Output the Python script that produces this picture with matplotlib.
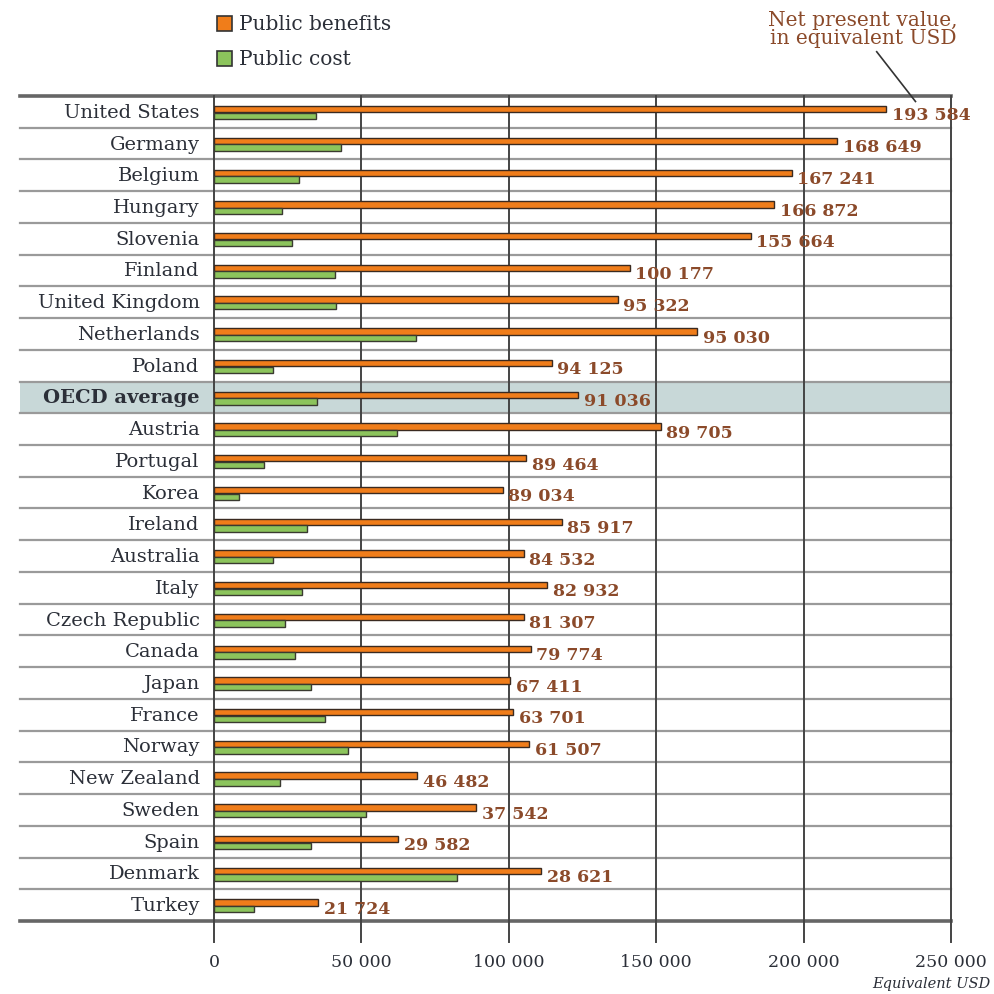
import matplotlib
matplotlib.use("Agg")
import matplotlib.pyplot as plt
from matplotlib.patches import Rectangle

countries = ["United States", "Germany", "Belgium", "Hungary", "Slovenia", "Finland",
             "United Kingdom", "Netherlands", "Poland", "OECD average", "Austria",
             "Portugal", "Korea", "Ireland", "Australia", "Italy", "Czech Republic",
             "Canada", "Japan", "France", "Norway", "New Zealand", "Sweden", "Spain",
             "Denmark", "Turkey"]
benefits = [228000, 211500, 196000, 190000, 182000, 141000, 137000, 164000, 114500,
            123500, 151500, 106000, 98000, 118000, 105000, 113000, 105000, 107500,
            100500, 101500, 107000, 69000, 89000, 62500, 111000, 35300]
costs = [34500, 43000, 29000, 23000, 26500, 41000, 41500, 68500, 20000, 35000,
         62000, 17000, 8500, 31500, 20000, 30000, 24000, 27500, 33000, 37500,
         45500, 22500, 51500, 33000, 82500, 13600]
npv_labels = ["193 584", "168 649", "167 241", "166 872", "155 664", "100 177",
              "95 322", "95 030", "94 125", "91 036", "89 705", "89 464", "89 034",
              "85 917", "84 532", "82 932", "81 307", "79 774", "67 411", "63 701",
              "61 507", "46 482", "37 542", "29 582", "28 621", "21 724"]
xticks = [0, 50000, 100000, 150000, 200000, 250000]
xtick_labels = ["0", "50 000", "100 000", "150 000", "200 000", "250 000"]

ORANGE = "#F07D1A"
GREEN = "#8CC45C"
BROWN = "#8B4A2A"
TXT = "#2b2f38"
SERIF = ["DejaVu Serif"]

fig = plt.figure(figsize=(9.94, 9.95), dpi=100)
ax = fig.add_axes([0.2153, 0.0523, 0.7414, 0.8503])
n = len(countries)
ax.set_xlim(0, 250000)
ax.set_ylim(26.16, -0.5)
ax.axis("off")

ytr = ax.get_yaxis_transform()
left = -0.263
# highlighted OECD row
oi = countries.index("OECD average")
ax.add_patch(Rectangle((left, oi - 0.5), 1 - left, 1, transform=ytr,
                       facecolor="#c8d8d8", edgecolor="none", clip_on=False, zorder=0))
# row separators
for i in range(1, n):
    ax.plot([left, 1], [i - 0.5, i - 0.5], transform=ytr, color="#9a9a9a",
            lw=1.6, clip_on=False, zorder=1)
for yy in (-0.5, n - 0.5):
    ax.plot([left, 1], [yy, yy], transform=ytr, color="#666666",
            lw=2.6, clip_on=False, zorder=1)
# vertical gridlines
for xt in xticks:
    ax.plot([xt, xt], [-0.5, 26.16], color="#444444", lw=1.4, zorder=2, clip_on=False)

ys = list(range(n))
ax.barh([y - 0.08 for y in ys], benefits, height=0.2, color=ORANGE,
        edgecolor="#3a2a20", lw=1.0, zorder=3)
ax.barh([y + 0.13 for y in ys], costs, height=0.2, color=GREEN,
        edgecolor="#3a3a30", lw=1.0, zorder=3)

for i, (c, b, lab) in enumerate(zip(countries, benefits, npv_labels)):
    bold = c == "OECD average"
    ax.text(-0.0195, i, c, transform=ytr, ha="right", va="center", fontsize=14,
            family=SERIF, color=TXT, fontweight="bold" if bold else "normal")
    ax.annotate(lab, (b, i + 0.1), xytext=(4, 0), textcoords="offset points",
                ha="left", va="center", fontsize=12.5, family=SERIF, color=BROWN,
                fontweight="bold", zorder=4)

for xt, xl in zip(xticks, xtick_labels):
    ax.text(xt, 26.78, xl, ha="center", va="center", fontsize=12.5,
            family=SERIF, color=TXT)
ax.text(1.0535, 27.45, "Equivalent USD", transform=ytr, ha="right", va="center",
        fontsize=10.5, family=SERIF, style="italic", color=TXT)

# legend
for k, (col, lab) in enumerate([(ORANGE, "Public benefits"), (GREEN, "Public cost")]):
    yl = 0.975 - k * 0.035
    fig.patches.append(Rectangle((0.218, yl - 0.0075), 0.015, 0.015, facecolor=col,
                                 edgecolor="#333333", lw=1.2, transform=fig.transFigure))
    fig.text(0.24, yl, lab, ha="left", va="center", fontsize=14.5, family=SERIF, color=TXT)

# annotation
fig.text(0.868, 0.970, "Net present value,\nin equivalent USD", ha="center",
         va="center", fontsize=14.5, family=SERIF, color=BROWN, linespacing=0.95)
fig.add_artist(plt.Line2D([0.882, 0.921], [0.947, 0.897], color="#333333", lw=1.2,
                          transform=fig.transFigure))

fig.savefig("out.png", dpi=100)
